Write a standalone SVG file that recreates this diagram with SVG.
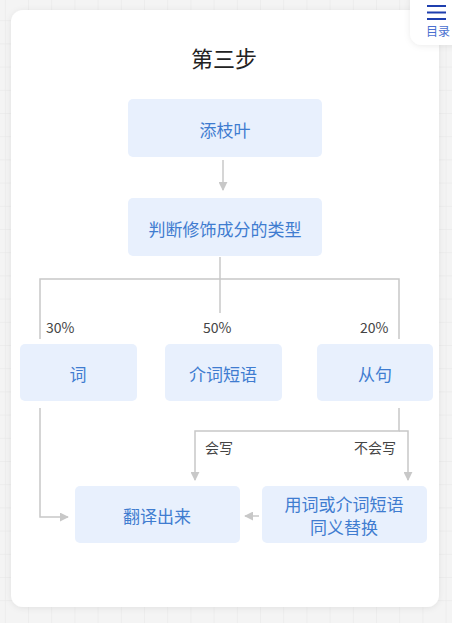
<svg xmlns="http://www.w3.org/2000/svg" width="452" height="623" viewBox="0 0 452 623">
<defs>
<pattern id="grid" x="4.8" y="20.2" width="23.2" height="23.2" patternUnits="userSpaceOnUse">
<path d="M0 0V23.2M0 0H23.2" fill="none" stroke="#e6e6e6" stroke-width="1"/>
</pattern>
<filter id="sh" x="-20%" y="-20%" width="140%" height="140%">
<feDropShadow dx="0" dy="1" stdDeviation="3" flood-color="#000" flood-opacity="0.08"/>
</filter>
<marker id="ah" viewBox="0 0 10 10" refX="9" refY="5" markerWidth="9" markerHeight="9" markerUnits="userSpaceOnUse" orient="auto">
<path d="M0 0L10 5L0 10Z" fill="#c8c8c8"/>
</marker>
<style>
.node rect{fill:#e8f0fd;}
.node text{font-family:"Noto Sans CJK SC","Noto Sans",sans-serif;font-size:17px;fill:#3f7cd0;text-anchor:middle;dominant-baseline:central;}
.conn path{fill:none;stroke:#c8c8c8;stroke-width:1.5;}
.lbl{font-family:"Noto Sans CJK SC","Liberation Sans",sans-serif;font-size:14px;fill:#444;}
</style>
</defs>
<rect width="452" height="623" fill="#f4f4f4"/>
<rect width="452" height="623" fill="url(#grid)"/>
<rect x="11" y="10" width="428" height="597" rx="12" fill="#ffffff" filter="url(#sh)"/>
<g id="menu">
<rect x="410" y="-12" width="60" height="57" rx="12" fill="#ffffff" filter="url(#sh)"/>
<path d="M427 6H446M427 12.5H446M427 19H446" stroke="#1f3fae" stroke-width="2.2"/>
<text x="438" y="36" font-family="Noto Sans CJK SC,sans-serif" font-size="12" fill="#4a6fd0" text-anchor="middle">目录</text>
</g>
<text id="title" x="224" y="67" font-family="Noto Sans CJK SC,sans-serif" font-size="22" fill="#222" text-anchor="middle">第三步</text>
<g class="conn">
<path d="M223 160V190" marker-end="url(#ah)"/>
<path d="M220 257V313"/>
<path d="M40 339V279H399V339"/>
<path d="M40 408V517H68" marker-end="url(#ah)"/>
<path d="M399 408V431H195V480" marker-end="url(#ah)"/>
<path d="M399 431H408V480" marker-end="url(#ah)"/>
<path d="M259 516H245" marker-end="url(#ah)"/>
</g>
<text class="lbl" x="46" y="333">30%</text>
<text class="lbl" x="203" y="333">50%</text>
<text class="lbl" x="360" y="333">20%</text>
<text class="lbl" x="205" y="453">会写</text>
<text class="lbl" x="354" y="453">不会写</text>
<g id="n1" class="node"><rect x="128" y="99" width="194" height="58" rx="5"/><text x="225" y="129">添枝叶</text></g>
<g id="n2" class="node"><rect x="128" y="198" width="194" height="58" rx="5"/><text x="225" y="228">判断修饰成分的类型</text></g>
<g id="n3" class="node"><rect x="20" y="344" width="117" height="57" rx="5"/><text x="78" y="373">词</text></g>
<g id="n4" class="node"><rect x="165" y="344" width="117" height="57" rx="5"/><text x="223" y="373">介词短语</text></g>
<g id="n5" class="node"><rect x="317" y="344" width="116" height="57" rx="5"/><text x="375" y="373">从句</text></g>
<g id="n6" class="node"><rect x="75" y="486" width="165" height="57" rx="5"/><text x="157" y="515">翻译出来</text></g>
<g id="n7" class="node"><rect x="262" y="486" width="165" height="57" rx="5"/><text x="344" y="503">用词或介词短语</text><text x="344" y="526">同义替换</text></g>
</svg>
